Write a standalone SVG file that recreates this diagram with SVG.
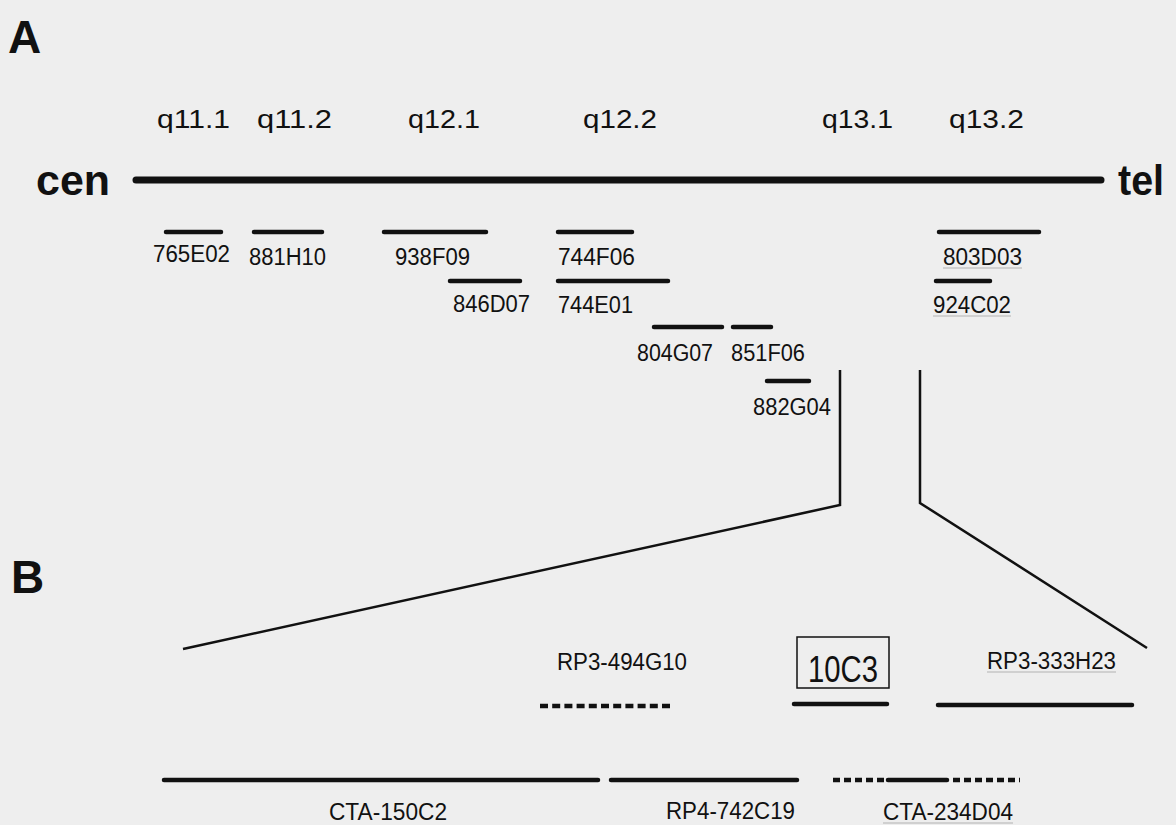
<svg xmlns="http://www.w3.org/2000/svg" width="1176" height="825" viewBox="0 0 1176 825">
<style>
text{font-family:"Liberation Sans",Arial,sans-serif;fill:#111}
.big{font-weight:bold;font-size:46px}
.arm{font-weight:bold;font-size:42px}
.band{font-size:26px}
.lbl{font-size:23px}
.lblB{font-size:23px}
.clone{stroke:#111;stroke-width:4.5;stroke-linecap:round;fill:none}
.dash{stroke:#111;stroke-width:4.5;stroke-dasharray:8 4.2;fill:none}
.conn{stroke:#111;stroke-width:2.5;fill:none;stroke-linejoin:miter}
.ul{stroke:#9a9a9a;stroke-width:1;opacity:0.7}
</style>
<rect x="0" y="0" width="1176" height="825" fill="#eeeeee"/>

<g id="panel-labels">
<text class="big" x="8" y="53">A</text>
<text class="big" x="11" y="593">B</text>
</g>

<g id="chromosome">
<text class="arm" x="36" y="195" textLength="74" lengthAdjust="spacingAndGlyphs">cen</text>
<line x1="136" y1="180" x2="1101" y2="180" stroke="#111" stroke-width="7" stroke-linecap="round"/>
<text class="arm" x="1118" y="195" textLength="46" lengthAdjust="spacingAndGlyphs">tel</text>
</g>

<g id="bands">
<text class="band" x="157" y="128" textLength="73" lengthAdjust="spacingAndGlyphs">q11.1</text>
<text class="band" x="257" y="128" textLength="75" lengthAdjust="spacingAndGlyphs">q11.2</text>
<text class="band" x="408" y="128" textLength="72" lengthAdjust="spacingAndGlyphs">q12.1</text>
<text class="band" x="583" y="128" textLength="74" lengthAdjust="spacingAndGlyphs">q12.2</text>
<text class="band" x="822" y="128" textLength="71" lengthAdjust="spacingAndGlyphs">q13.1</text>
<text class="band" x="949" y="128" textLength="75" lengthAdjust="spacingAndGlyphs">q13.2</text>
</g>

<g id="c765E02"><line class="clone" x1="166" y1="232" x2="221" y2="232"/><text class="lbl" x="153" y="262" textLength="77" lengthAdjust="spacingAndGlyphs">765E02</text></g>
<g id="c881H10"><line class="clone" x1="254" y1="232" x2="322" y2="232"/><text class="lbl" x="249" y="265" textLength="77" lengthAdjust="spacingAndGlyphs">881H10</text></g>
<g id="c938F09"><line class="clone" x1="384" y1="232" x2="486" y2="232"/><text class="lbl" x="395" y="265" textLength="75" lengthAdjust="spacingAndGlyphs">938F09</text></g>
<g id="c744F06"><line class="clone" x1="558" y1="232" x2="632" y2="232"/><text class="lbl" x="558" y="265" textLength="77" lengthAdjust="spacingAndGlyphs">744F06</text></g>
<g id="c803D03"><line class="clone" x1="939" y1="232" x2="1039" y2="232"/><text class="lbl" x="943" y="265" textLength="79" lengthAdjust="spacingAndGlyphs">803D03</text><line class="ul" x1="943" y1="268" x2="1022" y2="268"/></g>
<g id="c846D07"><line class="clone" x1="450" y1="281" x2="520" y2="281"/><text class="lbl" x="453" y="312" textLength="77" lengthAdjust="spacingAndGlyphs">846D07</text></g>
<g id="c744E01"><line class="clone" x1="558" y1="281" x2="668" y2="281"/><text class="lbl" x="558" y="313" textLength="75" lengthAdjust="spacingAndGlyphs">744E01</text></g>
<g id="c924C02"><line class="clone" x1="936" y1="281" x2="990" y2="281"/><text class="lbl" x="933" y="313" textLength="78" lengthAdjust="spacingAndGlyphs">924C02</text><line class="ul" x1="933" y1="316" x2="1011" y2="316"/></g>
<g id="c804G07"><line class="clone" x1="654" y1="327" x2="722" y2="327"/><text class="lbl" x="637" y="361" textLength="76" lengthAdjust="spacingAndGlyphs">804G07</text></g>
<g id="c851F06"><line class="clone" x1="733" y1="327" x2="771" y2="327"/><text class="lbl" x="731" y="361" textLength="74" lengthAdjust="spacingAndGlyphs">851F06</text></g>
<g id="c882G04"><line class="clone" x1="767" y1="381" x2="809" y2="381"/><text class="lbl" x="753" y="415" textLength="78" lengthAdjust="spacingAndGlyphs">882G04</text></g>

<g id="connectors">
<polyline class="conn" points="840,370 840,505 183,649"/>
<polyline class="conn" points="920,370 920,503 1147,648"/>
</g>

<g id="RP3-494G10"><text class="lblB" x="557" y="670" textLength="130" lengthAdjust="spacingAndGlyphs">RP3-494G10</text><line class="dash" x1="540" y1="706" x2="673" y2="706"/></g>
<g id="n10C3"><rect x="797" y="637" width="92" height="51" fill="none" stroke="#111" stroke-width="1.5"/><text x="808" y="682" font-size="36" textLength="70" lengthAdjust="spacingAndGlyphs">10C3</text><line class="clone" x1="794" y1="704" x2="887" y2="704"/></g>
<g id="RP3-333H23"><text class="lblB" x="987" y="669" textLength="129" lengthAdjust="spacingAndGlyphs">RP3-333H23</text><line class="ul" x1="987" y1="672" x2="1116" y2="672"/><line class="clone" x1="938" y1="705" x2="1132" y2="705"/></g>
<g id="CTA-150C2"><line class="clone" x1="164" y1="780" x2="598" y2="780"/><text class="lblB" x="329" y="820" textLength="118" lengthAdjust="spacingAndGlyphs">CTA-150C2</text></g>
<g id="RP4-742C19"><line class="clone" x1="611" y1="780" x2="797" y2="780"/><text class="lblB" x="666" y="819" textLength="129" lengthAdjust="spacingAndGlyphs">RP4-742C19</text></g>
<g id="CTA-234D04"><line class="dash" x1="833" y1="780" x2="886" y2="780" style="stroke-dasharray:7 4"/><line class="clone" x1="888" y1="780" x2="947" y2="780"/><line class="dash" x1="953" y1="780" x2="1020" y2="780" style="stroke-dasharray:7 4"/><text class="lblB" x="883" y="820" textLength="130" lengthAdjust="spacingAndGlyphs">CTA-234D04</text><line class="ul" x1="883" y1="823" x2="1013" y2="823"/></g>
</svg>
